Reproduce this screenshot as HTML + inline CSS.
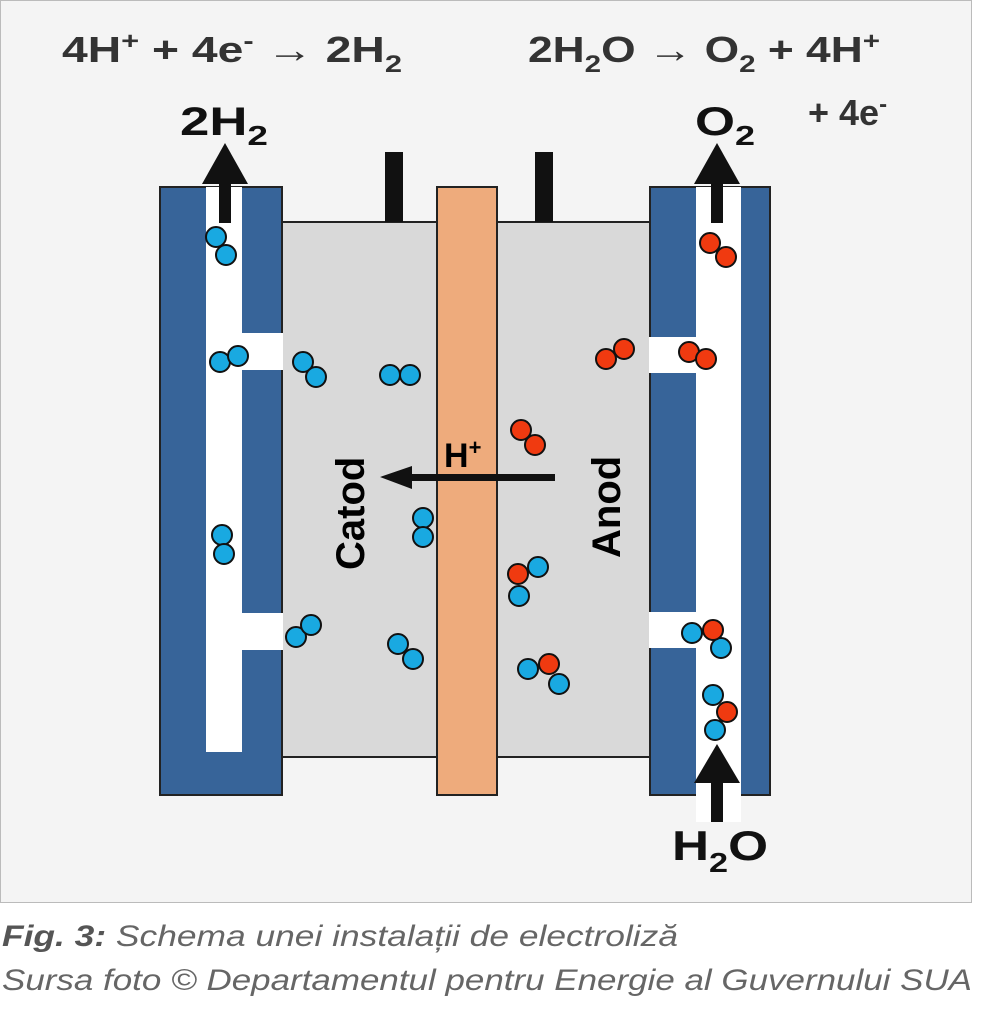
<!DOCTYPE html>
<html><head><meta charset="utf-8"><style>
body{margin:0;background:#fff;width:991px;height:1024px;overflow:hidden;font-family:"Liberation Sans",sans-serif}
</style></head><body>
<svg width="991" height="1024" xmlns="http://www.w3.org/2000/svg" style="position:absolute;left:0;top:0">
<rect x="0.5" y="0.5" width="971" height="902" fill="#f4f4f4" stroke="#bbb"/>
<g font-family="Liberation Sans, sans-serif" font-weight="bold" fill="#333">
<text x="62" y="62" font-size="36" textLength="340" lengthAdjust="spacingAndGlyphs">4H<tspan font-size="24" dy="-13">+</tspan><tspan dy="13"> + 4e</tspan><tspan font-size="24" dy="-13">-</tspan><tspan dy="13"> → 2H</tspan><tspan font-size="24" dy="10">2</tspan></text>
<text x="528" y="62" font-size="36" textLength="352" lengthAdjust="spacingAndGlyphs">2H<tspan font-size="24" dy="10">2</tspan><tspan dy="-10">O → O</tspan><tspan font-size="24" dy="10">2</tspan><tspan dy="-10"> + 4H</tspan><tspan font-size="24" dy="-13">+</tspan></text>
<text x="808" y="125" font-size="36">+ 4e<tspan font-size="24" dy="-13">-</tspan></text>
</g>
<g font-family="Liberation Sans, sans-serif" font-weight="bold" fill="#111">
<text x="180" y="135" font-size="40" textLength="88" lengthAdjust="spacingAndGlyphs">2H<tspan font-size="28" dy="10">2</tspan></text>
<text x="695" y="135" font-size="40" textLength="60" lengthAdjust="spacingAndGlyphs">O<tspan font-size="28" dy="10">2</tspan></text>
<text x="672" y="860" font-size="42" textLength="96" lengthAdjust="spacingAndGlyphs">H<tspan font-size="28" dy="12">2</tspan><tspan dy="-12">O</tspan></text>
</g>
<rect x="282" y="222" width="155" height="535" fill="#d9d9d9" stroke="#222" stroke-width="2"/>
<rect x="497" y="222" width="153" height="535" fill="#d9d9d9" stroke="#222" stroke-width="2"/>
<rect x="437" y="187" width="60" height="608" fill="#eeab7c" stroke="#222" stroke-width="2"/>
<rect x="385" y="152" width="18" height="70" fill="#111"/>
<rect x="535" y="152" width="18" height="70" fill="#111"/>
<rect x="160" y="187" width="122" height="608" fill="#376499" stroke="#222" stroke-width="2"/>
<rect x="206" y="187" width="36" height="565" fill="#fff"/>
<rect x="206" y="333" width="77" height="37" fill="#fff"/>
<rect x="206" y="613" width="77" height="37" fill="#fff"/>
<rect x="650" y="187" width="120" height="608" fill="#376499" stroke="#222" stroke-width="2"/>
<rect x="696" y="187" width="45" height="635" fill="#fff"/>
<rect x="649" y="337" width="48" height="36" fill="#fff"/>
<rect x="649" y="612" width="48" height="36" fill="#fff"/>
<g fill="#111">
<rect x="219" y="178" width="12" height="45"/><polygon points="202,184 248,184 225,143"/>
<rect x="711" y="178" width="12" height="45"/><polygon points="694,184 740,184 717,143"/>
<rect x="711" y="780" width="12" height="42"/><polygon points="694,783 740,783 717,744"/>
<rect x="410" y="474" width="145" height="7"/><polygon points="412,466 412,489 380,477"/>
</g>
<g font-family="Liberation Sans, sans-serif" font-weight="bold" fill="#000">
<text x="444" y="467" font-size="34">H<tspan font-size="22" dy="-12">+</tspan></text>
<text transform="translate(364,570) rotate(-90)" font-size="40">Catod</text>
<text transform="translate(620,558) rotate(-90)" font-size="40">Anod</text>
</g>
<g stroke="#111" stroke-width="2">
<g fill="#19a9e1">
<circle cx="216" cy="237" r="10"/><circle cx="226" cy="255" r="10"/>
<circle cx="220" cy="362" r="10"/><circle cx="238" cy="356" r="10"/>
<circle cx="303" cy="362" r="10"/><circle cx="316" cy="377" r="10"/>
<circle cx="390" cy="375" r="10"/><circle cx="410" cy="375" r="10"/>
<circle cx="222" cy="535" r="10"/><circle cx="224" cy="554" r="10"/>
<circle cx="296" cy="637" r="10"/><circle cx="311" cy="625" r="10"/>
<circle cx="398" cy="644" r="10"/><circle cx="413" cy="659" r="10"/>
<circle cx="423" cy="518" r="10"/><circle cx="423" cy="537" r="10"/>
<circle cx="538" cy="567" r="10"/><circle cx="519" cy="596" r="10"/>
<circle cx="528" cy="669" r="10"/><circle cx="559" cy="684" r="10"/>
<circle cx="692" cy="633" r="10"/><circle cx="721" cy="648" r="10"/>
<circle cx="713" cy="695" r="10"/><circle cx="715" cy="730" r="10"/>
</g>
<g fill="#f03a10">
<circle cx="710" cy="243" r="10"/><circle cx="726" cy="257" r="10"/>
<circle cx="689" cy="352" r="10"/><circle cx="706" cy="359" r="10"/>
<circle cx="606" cy="359" r="10"/><circle cx="624" cy="349" r="10"/>
<circle cx="521" cy="430" r="10"/><circle cx="535" cy="445" r="10"/>
<circle cx="518" cy="574" r="10"/>
<circle cx="549" cy="664" r="10"/>
<circle cx="713" cy="630" r="10"/>
<circle cx="727" cy="712" r="10"/>
</g>
</g>
<g font-family="Liberation Sans, sans-serif" font-style="italic" font-size="30" fill="#666">
<text x="2" y="946" textLength="676" lengthAdjust="spacingAndGlyphs"><tspan font-weight="bold" fill="#555">Fig. 3:</tspan> Schema unei instalații de electroliză</text>
<text x="2" y="990" textLength="970" lengthAdjust="spacingAndGlyphs">Sursa foto © Departamentul pentru Energie al Guvernului SUA</text>
</g>
</svg>
</body></html>
